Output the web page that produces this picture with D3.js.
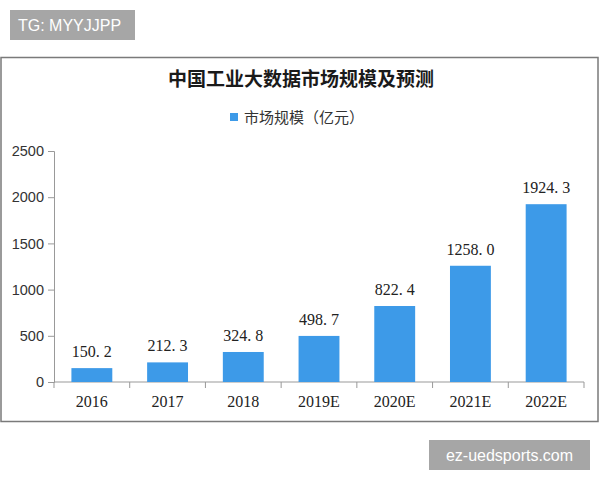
<!DOCTYPE html>
<html>
<head>
<meta charset="utf-8">
<script src="https://cdn.jsdelivr.net/npm/d3@7"></script>
<style>
  html, body { margin: 0; padding: 0; background: #fff; }
  svg { display: block; }
</style>
</head>
<body>
<script>
const categories = ["2016", "2017", "2018", "2019E", "2020E", "2021E", "2022E"];
const values = [150.2, 212.3, 324.8, 498.7, 822.4, 1258.0, 1924.3];
const yTicks = [0, 500, 1000, 1500, 2000, 2500];
const title = "中国工业大数据市场规模及预测";
const legendLabel = "市场规模（亿元）";
const topBadge = "TG: MYYJJPP";
const bottomBadge = "ez-uedsports.com";

const W = 600, H = 480;
const svg = d3.select("body").append("svg").attr("width", W).attr("height", H);

// badges
svg.append("rect").attr("x", 10).attr("y", 10).attr("width", 125).attr("height", 30).attr("fill", "#a6a6a6");
svg.append("text").attr("x", 18).attr("y", 31).attr("fill", "#fff")
  .attr("font-family", "Liberation Sans, Arial, sans-serif").attr("font-size", 16).text(topBadge);

svg.append("rect").attr("x", 429).attr("y", 440).attr("width", 161).attr("height", 30).attr("fill", "#a6a6a6");
svg.append("text").attr("x", 509.5).attr("y", 461).attr("fill", "#fff").attr("text-anchor", "middle")
  .attr("font-family", "Liberation Sans, Arial, sans-serif").attr("font-size", 16).text(bottomBadge);

// frame
svg.append("rect").attr("x", 1).attr("y", 57.5).attr("width", 597).attr("height", 364)
  .attr("fill", "#fff").attr("stroke", "#7a7a7a").attr("stroke-width", 1.5);

// title
svg.append("text").attr("x", 301).attr("y", 86).attr("text-anchor", "middle")
  .attr("font-family", "Noto Sans CJK SC, sans-serif").attr("font-weight", "bold")
  .attr("font-size", 19).attr("fill", "#1a1a1a").text(title);

// legend
svg.append("rect").attr("x", 230).attr("y", 113).attr("width", 8).attr("height", 8).attr("fill", "#3d9ae8");
svg.append("text").attr("x", 244).attr("y", 122.5)
  .attr("font-family", "Noto Sans CJK SC, sans-serif").attr("font-size", 15).attr("fill", "#333")
  .text(legendLabel);

// scales
const x = d3.scaleBand().domain(categories).range([54, 584]).paddingInner(0.46).paddingOuter(0.23);
const y = d3.scaleLinear().domain([0, 2500]).range([382, 151]);

// y axis
const yAxis = d3.axisLeft(y).tickValues(yTicks).tickSize(6).tickPadding(4).tickFormat(d3.format("d"));
const gy = svg.append("g").attr("transform", "translate(54,0)").call(yAxis);
gy.select(".domain").attr("stroke", "#999");
gy.selectAll(".tick line").attr("stroke", "#999");
gy.selectAll(".tick text").attr("font-family", "Liberation Sans, Arial, sans-serif")
  .attr("font-size", 14.5).attr("fill", "#333");

// x axis: ticks at band boundaries
const xAxisG = svg.append("g").attr("transform", "translate(0,382)");
xAxisG.append("line").attr("x1", 54).attr("x2", 584).attr("y1", 0).attr("y2", 0).attr("stroke", "#999");
const step = x.step();
const boundaries = d3.range(categories.length + 1).map(i => 54 + i * step);
xAxisG.selectAll("line.tk").data(boundaries).join("line").attr("class", "tk")
  .attr("x1", d => d).attr("x2", d => d).attr("y1", 0).attr("y2", 6).attr("stroke", "#999");
xAxisG.selectAll("text").data(categories).join("text")
  .attr("x", d => x(d) + x.bandwidth() / 2).attr("y", 25).attr("text-anchor", "middle")
  .attr("font-family", "Liberation Serif, serif").attr("font-size", 16).attr("fill", "#222")
  .text(d => d);

// bars
svg.append("g").selectAll("rect").data(values).join("rect")
  .attr("x", (d, i) => x(categories[i]))
  .attr("y", d => y(d))
  .attr("width", x.bandwidth())
  .attr("height", d => y(0) - y(d))
  .attr("fill", "#3d9ae8");

// value labels
const fmt = d => d3.format(".1f")(d).replace(".", ". ");
svg.append("g").selectAll("text").data(values).join("text")
  .attr("x", (d, i) => x(categories[i]) + x.bandwidth() / 2)
  .attr("y", d => y(d) - 11)
  .attr("text-anchor", "middle")
  .attr("font-family", "Liberation Serif, serif").attr("font-size", 16).attr("fill", "#222")
  .text(fmt);
</script>
</body>
</html>
